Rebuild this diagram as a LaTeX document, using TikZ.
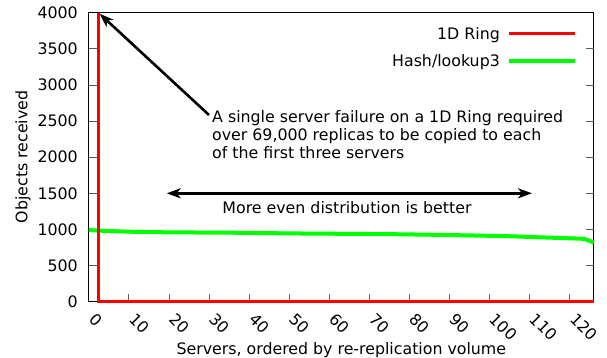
\documentclass[tikz,border=0pt]{standalone}
\usepackage{fontspec}
\setmainfont{DejaVu Sans}
\usepackage{tikz}
\usetikzlibrary{arrows.meta, positioning, calc}

\begin{document}
\begin{tikzpicture}[
    x=1pt, y=1pt,
    txt/.style={font=\fontsize{15.8}{18}\selectfont, inner sep=0pt, text=black},
    axistick/.style={black!65, line width=0.8pt},
    border/.style={black, line width=1.1pt},
    ring/.style={red, line width=3.4pt},
    hash/.style={green, line width=4pt, line join=round},
    pointer/.style={{Stealth[length=14pt, width=10pt, inset=4pt]}-, line width=2.6pt, black},
    spread/.style={{Stealth[length=14pt, width=10pt, inset=4pt]}-{Stealth[length=14pt, width=10pt, inset=4pt]}, line width=2.6pt, black}
]
    \useasboundingbox (0,0) rectangle (607,358);

    % plot area in data units
    \begin{scope}[shift={(88.8,56.3)}, x=4.008pt, y=0.07225pt]
        \draw[border] (0,0) rectangle (126,4000);
        \foreach \v in {500,1000,...,3500} {
            \draw[axistick] (0,\v) -- ++(8pt,0);
            \draw[axistick] (126,\v) -- ++(-8pt,0);
        }
        \foreach \u in {10,20,...,120}
            \draw[axistick] (\u,0) -- ++(0,8pt);
        \foreach \v in {0,500,...,4000}
            \node[txt, anchor=east] (y\v) at (-2.7,\v) {\v};
        \foreach \u in {0,10,...,120}
            \node[txt, rotate=-45, anchor=west] (x\u) at (\u+0.8,-200) {\u};

        \draw[hash] plot[smooth, tension=0.5] coordinates {(0,992) (2.8,983) (10.3,969) (20.3,960) (35.2,955) (52.7,944) (77.6,933) (102.6,909) (112.6,891) (122.6,872) (124,862) (126,817)};
        \draw[ring] (2.4,4000) -- (2.4,0) -- (126,0);

        \coordinate (peak) at (2.7,3985);
    \end{scope}

    \node[txt, rotate=90, anchor=base] (ylab) at (27.3,201) {Objects received};
    \node[txt, anchor=base] (xlab) at (341.3,3) {Servers, ordered by re-replication volume};

    % legend
    \node[txt, anchor=base east] (ringkey) at (500,318.7) {1D Ring};
    \node[txt, anchor=base east] (hashkey) at (500,291.3) {Hash/lookup3};
    \draw[ring] ($(ringkey.base east)+(9,5.8)$) -- ++(66,0);
    \draw[hash] ($(hashkey.base east)+(9,5.7)$) -- ++(66,0);

    % annotations
    \node[txt, anchor=north west, align=left] (note) at (212,247.3) {A single server failure on a 1D Ring required\\over 69,000 replicas to be copied to each\\of the first three servers};
    \draw[pointer] (peak) -- ([shift={(-3,-4.3)}]note.north west);

    \coordinate (evenl) at (166.7,164.7);
    \coordinate (evenr) at (532,164.7);
    \draw[spread] (evenl) -- (evenr);
    \node[txt, anchor=base] (even) at (347,144.7) {More even distribution is better};
\end{tikzpicture}
\end{document}
